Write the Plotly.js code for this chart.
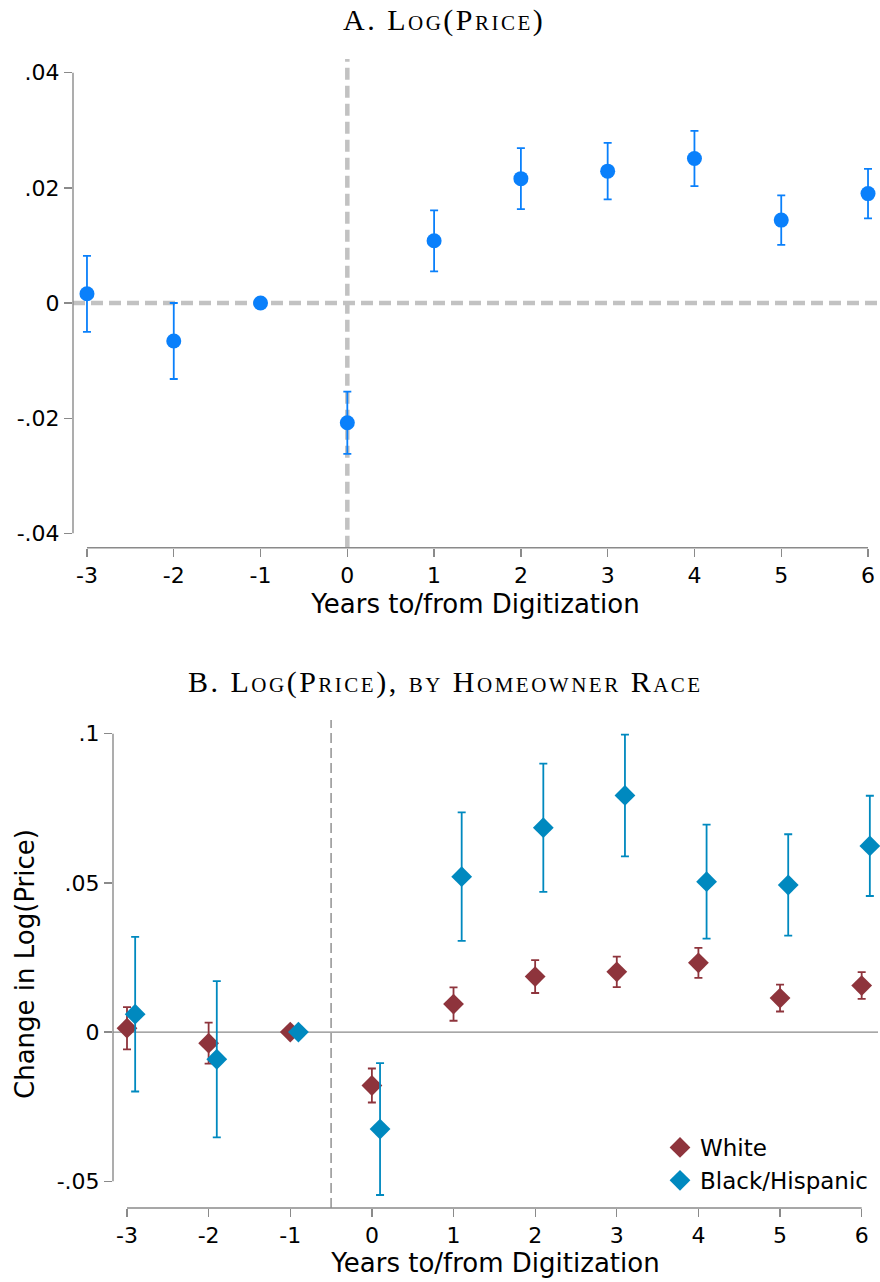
<!DOCTYPE html>
<html><head><meta charset="utf-8">
<script src="https://cdn.plot.ly/plotly-3.0.1.min.js"></script>
<style>html,body{margin:0;padding:0;background:#fff}#chart{width:880px;height:1282px}</style>
</head><body><div id="chart"></div>
<script>
// ---- data ----
const years = [-3, -2, -1, 0, 1, 2, 3, 4, 5, 6];

// Panel A: Log(Price)
const priceEst = [0.0016, -0.0066, 0, -0.0208, 0.0108, 0.0216, 0.0229, 0.0251, 0.0144, 0.0190];
const priceCI  = [0.0066, 0.0066, 0, 0.0054, 0.0053, 0.0053, 0.0049, 0.0048, 0.0043, 0.0043];

// Panel B: by homeowner race
const whiteEst = [0.0013, -0.0037, 0, -0.0179, 0.0094, 0.0186, 0.0202, 0.0232, 0.0114, 0.0156];
const whiteCI  = [0.0071, 0.0069, 0, 0.0057, 0.0056, 0.0055, 0.0051, 0.0050, 0.0045, 0.0045];
const blackEst = [0.0060, -0.0091, 0, -0.0325, 0.0521, 0.0685, 0.0793, 0.0504, 0.0493, 0.0624];
const blackCI  = [0.0259, 0.0262, 0, 0.0221, 0.0215, 0.0215, 0.0204, 0.0191, 0.0170, 0.0168];

const ticksA = [-0.04, -0.02, 0, 0.02, 0.04];
const tickTextA = ['-.04', '-.02', '0', '.02', '.04'];
const ticksB = [-0.05, 0, 0.05, 0.1];
const tickTextB = ['-.05', '0', '.05', '.1'];
const xTickText = years.map(String);

const titleA = 'A. Log(Price)';
const titleB = 'B. Log(Price), by Homeowner Race';
const xTitle = 'Years to/from Digitization';
const yTitleB = 'Change in Log(Price)';
const seriesNames = ['White', 'Black/Hispanic'];
const blackOffset = 0.1;

// ---- styles ----
const blueA = '#0a80fb';
const maroon = '#8e343c';
const teal = '#0089bf';
const axisGray = '#8a8a8a';
const sans = 'DejaVu Sans';
const spaced = t => '<span style="letter-spacing:2.5px">' + t + '</span>';

const traces = [
  {
    x: years, y: priceEst, xaxis: 'x', yaxis: 'y', type: 'scatter', mode: 'markers',
    showlegend: false, cliponaxis: false,
    marker: {color: blueA, size: 15, symbol: 'circle'},
    error_y: {type: 'data', array: priceCI, visible: true, color: blueA, thickness: 1.8, width: 4}
  },
  {
    x: years, y: whiteEst, xaxis: 'x2', yaxis: 'y2', type: 'scatter', mode: 'markers',
    name: seriesNames[0], legendgroup: 'w', cliponaxis: false,
    marker: {color: maroon, size: 16, symbol: 'diamond'},
    error_y: {type: 'data', array: whiteCI, visible: true, color: maroon, thickness: 1.8, width: 4}
  },
  {
    x: years.map(v => v + blackOffset), y: blackEst, xaxis: 'x2', yaxis: 'y2', type: 'scatter', mode: 'markers',
    name: seriesNames[1], legendgroup: 'b', cliponaxis: false,
    marker: {color: teal, size: 16, symbol: 'diamond'},
    error_y: {type: 'data', array: blackCI, visible: true, color: teal, thickness: 1.8, width: 4}
  }
];

const tickFont = {family: sans, size: 22, color: '#000'};
const titleFont = {family: sans, size: 26, color: '#000'};
const headFont = {family: 'Liberation Serif', size: 30, color: '#000', variant: 'small-caps'};

const commonX = {
  tickmode: 'array', tickvals: years, ticktext: xTickText,
  ticks: 'outside', ticklen: 8, tickwidth: 1.3, tickcolor: axisGray,
  showline: false, showgrid: false, zeroline: false, tickfont: tickFont,
  fixedrange: true
};
const commonY = {
  tickmode: 'array', ticks: 'outside', ticklen: 8, tickwidth: 1.3, tickcolor: axisGray,
  showline: false, showgrid: false, zeroline: false, tickfont: tickFont,
  fixedrange: true
};

const layout = {
  width: 880, height: 1282,
  margin: {l: 0, r: 0, t: 0, b: 0},
  paper_bgcolor: '#fff', plot_bgcolor: 'rgba(0,0,0,0)',
  showlegend: true,
  xaxis: Object.assign({}, commonX, {
    domain: [73 / 880, 878 / 880], range: [-3.161, 6.115], anchor: 'y',
    title: {text: xTitle, font: titleFont, standoff: 7}
  }),
  yaxis: Object.assign({}, commonY, {
    domain: [1 - 547.7 / 1282, 1 - 59 / 1282], range: [-0.0425, 0.04238], anchor: 'x',
    tickvals: ticksA, ticktext: tickTextA
  }),
  xaxis2: Object.assign({}, commonX, {
    domain: [113 / 880, 878 / 880], range: [-3.1715, 6.2], anchor: 'y2',
    title: {text: xTitle, font: titleFont, standoff: 5}
  }),
  yaxis2: Object.assign({}, commonY, {
    domain: [1 - 1208 / 1282, 1 - 720 / 1282], range: [-0.05895, 0.10459], anchor: 'x2',
    tickvals: ticksB, ticktext: tickTextB,
    title: {text: yTitleB, font: titleFont, standoff: 14}
  }),
  legend: {
    x: 660 / 880, xanchor: 'left', y: 1 - 1126 / 1282, yanchor: 'top',
    bgcolor: 'rgba(0,0,0,0)', font: {family: sans, size: 23, color: '#000'},
    traceorder: 'grouped', tracegroupgap: 0, itemclick: false
  },
  annotations: [
    {text: spaced(titleA), xref: 'paper', yref: 'paper', x: 444 / 880, y: 1 - 20 / 1282,
     xanchor: 'center', yanchor: 'middle', showarrow: false, font: headFont},
    {text: spaced(titleB), xref: 'paper', yref: 'paper', x: 445 / 880, y: 1 - 682 / 1282,
     xanchor: 'center', yanchor: 'middle', showarrow: false, font: headFont}
  ],
  shapes: [
    // Panel A reference lines
    {type: 'line', layer: 'below', xref: 'x domain', x0: 0, x1: 1, yref: 'y', y0: 0, y1: 0,
     line: {color: '#c2c2c2', width: 4.5, dash: '12px,6px'}},
    {type: 'line', layer: 'below', xref: 'x', x0: 0, x1: 0, yref: 'y domain', y0: 0, y1: 1,
     line: {color: '#c2c2c2', width: 4.5, dash: '12px,6px'}},
    // Panel A axis lines
    {type: 'line', layer: 'above', xref: 'x domain', x0: 0, x1: 0, yref: 'y', y0: ticksA[0], y1: ticksA[ticksA.length - 1],
     line: {color: axisGray, width: 1.4}},
    {type: 'line', layer: 'above', xref: 'x', x0: years[0], x1: years[years.length - 1], yref: 'y domain', y0: 0, y1: 0,
     line: {color: axisGray, width: 1.4}},
    // Panel B reference lines
    {type: 'line', layer: 'below', xref: 'x2 domain', x0: 0, x1: 1, yref: 'y2', y0: 0, y1: 0,
     line: {color: axisGray, width: 1.4}},
    {type: 'line', layer: 'below', xref: 'x2', x0: -0.5, x1: -0.5, yref: 'y2 domain', y0: 0, y1: 1,
     line: {color: axisGray, width: 1.4, dash: '10px,5px'}},
    // Panel B axis lines
    {type: 'line', layer: 'above', xref: 'x2 domain', x0: 0, x1: 0, yref: 'y2', y0: ticksB[0], y1: ticksB[ticksB.length - 1],
     line: {color: axisGray, width: 1.4}},
    {type: 'line', layer: 'above', xref: 'x2', x0: years[0], x1: years[years.length - 1], yref: 'y2 domain', y0: 0, y1: 0,
     line: {color: axisGray, width: 1.4}}
  ]
};

Plotly.newPlot('chart', traces, layout, {displayModeBar: false, staticPlot: true});
</script></body></html>
